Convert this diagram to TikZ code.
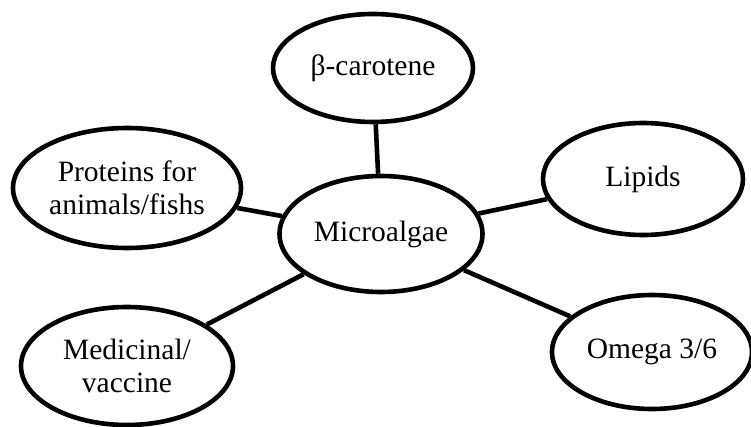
\documentclass[tikz,border=0pt]{standalone}
\usepackage{fontspec}
\setmainfont{Liberation Serif}
\usetikzlibrary{shapes.geometric}
\begin{document}
\begin{tikzpicture}[x=1pt,y=-1pt,
  bubble/.style={draw=black,line width=4.6pt,ellipse,inner sep=0pt,fill=white,
    align=center,font=\fontsize{29.5}{33}\selectfont},
  link/.style={draw=black,line width=4.6pt}]
\useasboundingbox (0,0) rectangle (751,427);
\node[bubble,minimum width=203,minimum height=116] (m) at (381,234) {Microalgae};
\node[bubble,minimum width=200,minimum height=108] (b) at (373,68) {β-carotene};
\node[bubble,minimum width=228,minimum height=120] (p) at (127,188) {Proteins for\\animals/fishs};
\node[bubble,minimum width=200,minimum height=112] (l) at (643,179) {Lipids};
\node[bubble,minimum width=212,minimum height=118] (d) at (127,366) {Medicinal/\\vaccine};
\node[bubble,minimum width=200,minimum height=114] (o) at (652,352) {Omega 3/6};
\draw[link] (b) -- (m);
\draw[link] (p) -- (m);
\draw[link] (m) -- (l);
\draw[link] (m) -- (d);
\draw[link] (m) -- (o);
\end{tikzpicture}
\end{document}
